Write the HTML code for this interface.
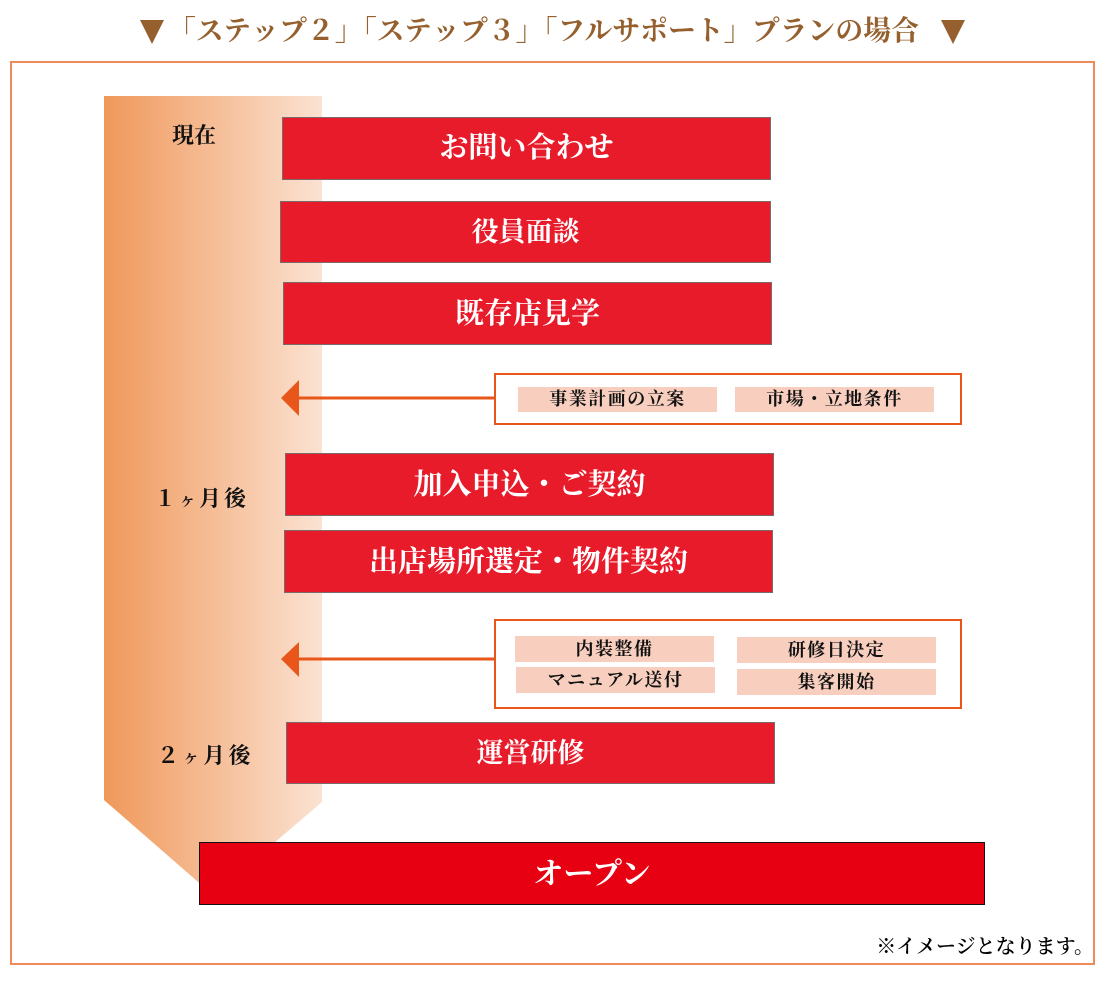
<!DOCTYPE html>
<html><head><meta charset="utf-8">
<style>
html,body{margin:0;padding:0;background:#fff;}
body{width:1106px;height:989px;position:relative;overflow:hidden;font-family:"Liberation Serif","Noto Serif CJK SC",serif;}
.abs{position:absolute;}
.title{left:168px;top:10px;width:770px;height:44px;line-height:44px;font-size:27.8px;font-weight:bold;color:#95602E;white-space:nowrap;letter-spacing:0.1px;}
.tri{position:absolute;width:0;height:0;border-left:12.5px solid transparent;border-right:12.5px solid transparent;border-top:24px solid #95602E;}
.frame{left:10px;top:61px;width:1081px;height:900px;border:2px solid #EF8A5C;}
.box{position:absolute;background:#E81B2B;border:1px solid #7a6a6a;box-sizing:border-box;color:#fff;font-weight:bold;font-size:29px;text-align:center;white-space:nowrap;}
.lbl{position:absolute;font-size:22px;font-weight:bold;color:#111;white-space:nowrap;}
.info{position:absolute;border:2px solid #E8561A;box-sizing:border-box;background:#fff;}
.chip{position:absolute;background:#F8CFBF;font-size:18px;font-weight:bold;color:#111;text-align:center;letter-spacing:1.5px;white-space:nowrap;}
</style></head>
<body>
<div class="tri" style="left:140px;top:20px;"></div>
<div class="abs title">「ステップ２」「ステップ３」「フルサポート」プランの場合</div>
<div class="tri" style="left:941px;top:20px;"></div>

<div class="abs frame"></div>

<svg class="abs" style="left:0;top:0;" width="1106" height="989">
<defs>
<linearGradient id="g" x1="0" y1="0" x2="1" y2="0">
<stop offset="0" stop-color="#F0985A"/>
<stop offset="1" stop-color="#FBE2D2"/>
</linearGradient>
</defs>
<polygon points="104,96 322,96 322,802 213,895 104,800" fill="url(#g)"/>
<polygon points="345,784 352,776 359,784" fill="#F07A3E"/>
<line x1="296" y1="398" x2="495" y2="398" stroke="#E8561A" stroke-width="3"/>
<polygon points="281,398 299,380 299,416" fill="#E8561A"/>
<line x1="296" y1="659" x2="495" y2="659" stroke="#E8561A" stroke-width="3"/>
<polygon points="281,659 299,642 299,677" fill="#E8561A"/>
</svg>

<div class="lbl" style="left:172px;top:119px;">現在</div>
<div class="lbl" style="left:154px;top:482px;letter-spacing:3px;">１<span style="font-size:17px;">ヶ</span>月後</div>
<div class="lbl" style="left:157px;top:739px;letter-spacing:3.5px;">２<span style="font-size:17px;">ヶ</span>月後</div>

<div class="box" style="left:282px;top:117px;width:489px;height:63px;line-height:60px;">お問い合わせ</div>
<div class="box" style="left:280px;top:201px;width:491px;height:62px;line-height:61px;font-size:27px;">役員面談</div>
<div class="box" style="left:283px;top:282px;width:489px;height:63px;line-height:63px;">既存店見学</div>

<div class="info" style="left:494px;top:373px;width:468px;height:52px;">
  <div class="chip" style="left:22px;top:12px;width:199px;height:25px;line-height:25px;">事業計画の立案</div>
  <div class="chip" style="left:239px;top:12px;width:199px;height:25px;line-height:25px;">市場・立地条件</div>
</div>

<div class="box" style="left:285px;top:453px;width:489px;height:63px;line-height:62px;">加入申込・ご契約</div>
<div class="box" style="left:284px;top:530px;width:489px;height:63px;line-height:63px;">出店場所選定・物件契約</div>

<div class="info" style="left:494px;top:619px;width:468px;height:90px;">
  <div class="chip" style="left:19px;top:15px;width:199px;height:26px;line-height:26px;">内装整備</div>
  <div class="chip" style="left:241px;top:16px;width:199px;height:26px;line-height:26px;">研修日決定</div>
  <div class="chip" style="left:20px;top:46px;width:199px;height:26px;line-height:26px;">マニュアル送付</div>
  <div class="chip" style="left:241px;top:48px;width:199px;height:26px;line-height:26px;">集客開始</div>
</div>

<div class="box" style="left:286px;top:722px;width:489px;height:62px;line-height:61px;font-size:27px;">運営研修</div>

<div class="box" style="left:199px;top:842px;width:786px;height:63px;line-height:63px;background:#E60012;border:1px solid #111;font-size:30px;">オープン</div>

<div class="abs" style="right:12px;top:930px;font-size:20px;color:#000;white-space:nowrap;font-weight:600;">※イメージとなります。</div>
</body></html>
